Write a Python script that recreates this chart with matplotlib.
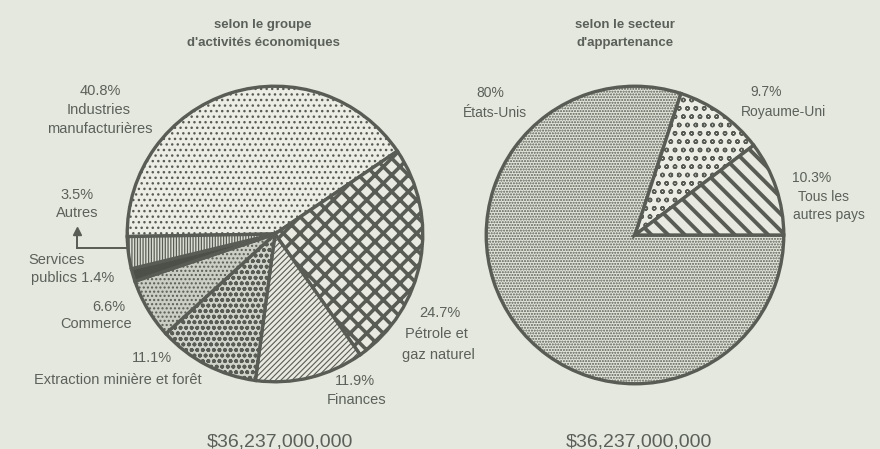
import matplotlib.pyplot as plt

# Left pie: by economic activity group (clockwise from left)
activity_labels = ["Industries manufacturières", "Pétrole et gaz naturel", "Finances",
                   "Extraction minière et forêt", "Commerce", "Services publics", "Autres"]
activity_share = [40.8, 24.7, 11.9, 11.1, 6.6, 1.4, 3.5]

# Right pie: by country of ownership
country_labels = ["États-Unis", "Royaume-Uni", "Tous les autres pays"]
country_share = [80.0, 9.7, 10.3]

total_label = "$36,237,000,000"

bg = "#e5e8de"
ink = "#585c54"
tc = "#5b615a"

plt.rcParams["font.family"] = ["Liberation Sans", "DejaVu Sans"]

W, H = 880, 449
fig = plt.figure(figsize=(W / 100, H / 100), dpi=100, facecolor=bg)


def px(x, y):
    return x / W, 1 - y / H


def txt(x, y, s, **kw):
    kw.setdefault("ha", "center")
    kw.setdefault("fontsize", 10.5)
    kw.setdefault("color", tc)
    fig.text(*px(x, y), s, va="center", **kw)


def pie_axes(cx, cy, r):
    ax = fig.add_axes([(cx - r) / W, (H - cy - r) / H, 2 * r / W, 2 * r / H])
    ax.set_facecolor("none")
    return ax


def draw_pie(ax, values, start, faces, hatches, hlw):
    wedges, _ = ax.pie(values, startangle=start, counterclock=False,
                       colors=faces, radius=1.0,
                       wedgeprops=dict(edgecolor=ink, linewidth=2.4))
    for w, h, lw in zip(wedges, hatches, hlw):
        if h:
            w.set_hatch(h)
            if hasattr(w, "set_hatch_linewidth"):
                w.set_hatch_linewidth(lw)
    ax.set_xlim(-1.015, 1.015)
    ax.set_ylim(-1.015, 1.015)
    ax.axis("off")


# left pie
ax1 = pie_axes(275, 234, 150)
draw_pie(ax1, activity_share, 181,
         ["#eceee6", "#e8eae1", "#e8eae1", "#d0d3c9", "#cbcec4", "#4c5048", "#dcdfd5"],
         ["...", "xx", "//////", "ooo", "....", None, "||||||"],
         [1.0, 2.6, 0.8, 1.2, 1.0, 1.0, 0.9])

# right pie
ax2 = pie_axes(635, 235, 151)
draw_pie(ax2, country_share, 0,
         ["#e2e5da", "#eceee6", "#e8eae1"],
         ["......", "oo", "\\\\"],
         [1.0, 1.0, 2.8])

# titles
txt(263, 25, "selon le groupe", fontweight="bold", fontsize=9.5)
txt(263, 43, "d'activités économiques", fontweight="bold", fontsize=9.5)
txt(625, 25, "selon le secteur", fontweight="bold", fontsize=9.5)
txt(625, 43, "d'appartenance", fontweight="bold", fontsize=9.5)

# left labels
txt(100, 91, f"{activity_share[0]}%")
txt(99, 110, "Industries")
txt(100, 129, "manufacturières")
txt(77, 195, f"{activity_share[6]}%")
txt(77, 213, "Autres")
txt(28, 260, "Services", ha="left")
txt(31, 278, f"publics {activity_share[5]}%", ha="left")
txt(109, 307, f"{activity_share[4]}%")
txt(96, 324, "Commerce")
txt(152, 358, f"{activity_share[3]}%")
txt(118, 380, "Extraction minière et forêt")
txt(355, 381, f"{activity_share[2]}%")
txt(357, 400, "Finances")
txt(440, 313, f"{activity_share[1]}%")
txt(436, 334, "Pétrole et")
txt(438, 355, "gaz naturel")

# arrow for Autres
fig.add_artist(plt.Line2D([126 / W, 77 / W], [1 - 248 / H, 1 - 248 / H],
                          color=ink, lw=1.4, transform=fig.transFigure))
fig.add_artist(plt.Line2D([77 / W, 77 / W], [1 - 248 / H, 1 - 233 / H],
                          color=ink, lw=1.4, transform=fig.transFigure))
fig.add_artist(plt.Line2D([77 / W], [1 - 231 / H], marker="^", markersize=6,
                          color=ink, transform=fig.transFigure))

# right labels
txt(490, 93, f"{country_share[0]:.0f}%", fontsize=10)
txt(495, 113, country_labels[0], fontsize=10)
txt(766, 92, f"{country_share[1]}%", fontsize=10)
txt(783, 112, country_labels[1], fontsize=10)
txt(812, 178, f"{country_share[2]}%", fontsize=10)
txt(823, 197, "Tous les", fontsize=10)
txt(829, 215, "autres pays", fontsize=10)

txt(280, 442, total_label, fontsize=14)
txt(639, 442, total_label, fontsize=14)

fig.savefig("out.png", dpi=100, facecolor=bg)
